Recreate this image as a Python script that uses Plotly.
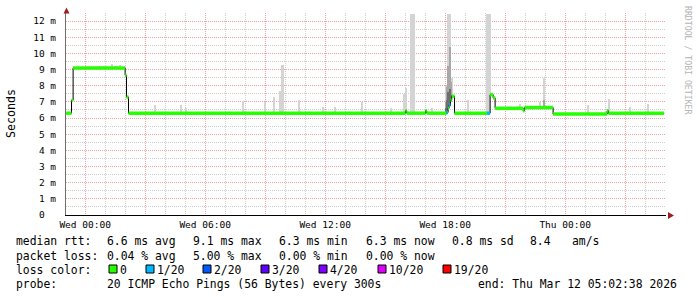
import plotly.graph_objects as go
import numpy as np
from datetime import datetime, timedelta

# ---------------- data ----------------
BASE = datetime(2026, 3, 11, 0, 0, 0)          # Wed 00:00
X_START = datetime(2026, 3, 10, 23, 2, 38)
X_END = datetime(2026, 3, 12, 5, 2, 38)

# median rtt steps: start hour (relative to Wed 00:00), value (ms), lost pings (of 20)
med_hours = [-0.95, -0.68, -0.6, 2.0, 2.07, 2.17, 16.02, 16.08, 17.02, 17.08,
             18.08, 18.15, 18.2, 18.27, 18.33, 18.47, 20.1, 20.25, 20.4, 20.5,
             21.9, 21.97, 23.4, 26.1, 26.17]
med_ms = [6.3, 7.1, 9.1, 8.65, 7.3, 6.3, 6.45, 6.3, 6.45, 6.3,
          6.35, 6.6, 6.8, 7.1, 7.35, 6.3, 6.3, 7.45, 7.25, 6.6,
          6.45, 6.65, 6.25, 6.45, 6.3]
med_loss = [0, 0, 0, 0, 0, 0, 0, 0, 0, 0,
            1, 0, 1, 0, 0, 0, 1, 0, 0, 0,
            0, 0, 0, 0, 0]
data_end_hour = 28.95

# light smoke spikes: hour, top (ms)
smoke_hours = [0.75, 0.95, 1.35, 1.55, 1.75, 3.5, 4.8, 5.05, 7.9, 9.0, 9.45, 9.75,
               9.88, 10.7, 11.9, 12.5, 13.85, 15.3, 15.95, 16.05, 16.3, 16.38, 16.46,
               17.35, 18.08, 18.17, 18.25, 18.33, 19.15, 20.1, 20.18, 20.26, 21.75,
               22.75, 22.95, 25.15, 26.2, 27.25, 28.15]
smoke_top = [9.25, 9.2, 9.35, 9.25, 9.3, 6.8, 6.8, 6.6, 7.05, 7.0, 7.3, 7.7,
             9.3, 7.1, 6.7, 6.7, 7.0, 6.6, 7.5, 7.85, 12.45, 12.45, 12.45,
             6.6, 8.0, 12.45, 12.45, 8.5, 7.1, 12.45, 12.45, 12.45, 6.85,
             7.0, 8.5, 6.8, 7.2, 6.7, 6.9]

# medium / dark smoke around 18:00
mid_hours = [18.05, 18.1, 18.17, 18.25, 18.3, 22.95]
mid_top = [7.0, 7.9, 9.2, 10.4, 8.2, 7.1]
dark_hours = [18.05, 18.1, 18.17, 18.25, 18.3]
dark_top = [6.6, 7.1, 7.6, 7.8, 7.4]

loss_colors = {0: "#26ff00", 1: "#00b8ff", 2: "#0059ff", 3: "#5e00ff",
               4: "#7e00ff", 10: "#dd00ff", 19: "#ff0000"}
loss_labels = ["0", "1/20", "2/20", "3/20", "4/20", "10/20", "19/20"]
loss_keys = [0, 1, 2, 3, 4, 10, 19]

y_tick_vals = list(range(0, 13))
y_tick_text = ["0\u00a0\u00a0"] + [f"{v}\u00a0m" for v in range(1, 13)]
x_tick_hours = list(range(0, 28, 3))
x_tick_text = ["Wed 00:00", "", "Wed 06:00", "", "Wed 12:00", "", "Wed 18:00", "", "Thu 00:00", ""]

row1_parts = ["median rtt:", "6.6 ms avg", "9.1 ms max", "6.3 ms min", "6.3 ms now",
              "0.8 ms sd", "8.4", "am/s"]
row2_parts = ["packet loss:", "0.04 % avg", "5.00 % max", "0.00 % min", "0.00 % now"]
row3_label = "loss color:"
row4_parts = ["probe:", "20 ICMP Echo Pings (56 Bytes) every 300s",
              "end: Thu Mar 12 05:02:38 2026"]

# ---------------- layout helpers ----------------
W, H = 697, 297
ML, MR, MT, MB = 66, 31, 13, 82
PW, PH = W - ML - MR, H - MT - MB
MONO = "DejaVu Sans Mono"
FS = 11.4
PAD = 2  # annotation inner padding

row1_x = [16, 107, 193, 279, 365.5, 451.5, 530, 572]
row2_x = [16, 107, 193, 279, 365.5]
row4_x = [16, 107, 478]
sq_left = [109, 146, 203, 261, 319, 378, 443]


def hx(h):
    return BASE + timedelta(hours=h)


def px(x):
    return (x - ML) / PW


def py(y):
    return (H - MB - y) / PH


def nb(s):
    return s.replace(" ", "\u00a0")


med_h = np.array(med_hours)
med_v = np.array(med_ms)


def median_at(h):
    idx = np.searchsorted(med_h, np.array(h), side="right") - 1
    return med_v[np.clip(idx, 0, len(med_v) - 1)]


fig = go.Figure()
bw = 300000 * 1.1

# smoke
for hrs, tops, col in [(smoke_hours, smoke_top, "#d4d4d4"),
                       (mid_hours, mid_top, "#a8a8a8"),
                       (dark_hours, dark_top, "#6e6e6e")]:
    base = median_at(hrs) - 0.05
    fig.add_trace(go.Bar(x=[hx(h) for h in hrs], y=np.array(tops) - base, base=base,
                         width=bw, marker=dict(color=col, line=dict(width=0)),
                         hoverinfo="skip", showlegend=False))

# black median line
bx = [hx(h) for h in med_hours] + [hx(data_end_hour)]
by = list(med_ms) + [med_ms[-1]]
fig.add_trace(go.Scatter(x=bx, y=by, mode="lines", line=dict(color="black", width=1, shape="hv"),
                         hoverinfo="skip", showlegend=False))

# colored segments by loss
ends = list(med_hours[1:]) + [data_end_hour]
for k in loss_keys:
    xs, ys = [], []
    for s, e, v, l in zip(med_hours, ends, med_ms, med_loss):
        if l == k:
            xs += [hx(s), hx(e), None]
            ys += [v, v, None]
    if xs:
        fig.add_trace(go.Scatter(x=xs, y=ys, mode="lines",
                                 line=dict(color=loss_colors[k], width=3.5),
                                 hoverinfo="skip", showlegend=False, connectgaps=False))

RED = "#eca4a4"
GRAY = "#cdcdcd"

fig.update_layout(
    width=W, height=H,
    margin=dict(l=ML, r=MR, t=MT, b=MB, pad=0),
    paper_bgcolor="white", plot_bgcolor="white",
    barmode="overlay", bargap=0,
    showlegend=False,
    font=dict(family=MONO, color="black"),
    xaxis=dict(
        type="date", range=[X_START, X_END],
        tickmode="array", tickvals=[hx(h) for h in x_tick_hours], ticktext=x_tick_text,
        showgrid=True, gridcolor=RED, griddash="1px,1px", gridwidth=1,
        minor=dict(dtick=3600000, tick0=BASE, showgrid=True, gridcolor=GRAY,
                   griddash="1px,1px", gridwidth=1),
        showline=True, linecolor="black", linewidth=1,
        ticks="", tickfont=dict(family=MONO, size=9.5, color="black"),
        zeroline=False, fixedrange=True, ticklabelstandoff=1,
    ),
    yaxis=dict(
        range=[0, 12.5],
        tickmode="array", tickvals=y_tick_vals, ticktext=y_tick_text,
        showgrid=True, gridcolor=RED, griddash="1px,1px", gridwidth=1,
        minor=dict(dtick=0.5, tick0=0, showgrid=True, gridcolor=GRAY,
                   griddash="1px,1px", gridwidth=1),
        showline=True, linecolor="#707070", linewidth=1,
        ticks="", tickfont=dict(family=MONO, size=9.5, color="black"),
        zeroline=False, fixedrange=True, ticklabelstandoff=7,
    ),
)

shapes = []
# axis arrows
shapes.append(dict(type="path", xref="paper", yref="paper",
                   path=f"M {px(63.5)} {py(13.5)} L {px(69.5)} {py(13.5)} L {px(66.5)} {py(7.5)} Z",
                   fillcolor="#a02020", line=dict(width=0)))
shapes.append(dict(type="path", xref="paper", yref="paper",
                   path=f"M {px(668)} {py(212)} L {px(668)} {py(219)} L {px(674)} {py(215.5)} Z",
                   fillcolor="#a02020", line=dict(width=0)))

annotations = []


def txt(s, x, y, size=FS, color="black", anchor="left", angle=0, yanchor="middle"):
    xx = x - PAD if anchor == "left" else x
    annotations.append(dict(text=nb(s), x=px(xx), y=py(y), xref="paper", yref="paper",
                            xanchor=anchor, yanchor=yanchor, showarrow=False,
                            textangle=angle, font=dict(family=MONO, size=size, color=color)))


for s, x in zip(row1_parts, row1_x):
    txt(s, x, 241.5)
for s, x in zip(row2_parts, row2_x):
    txt(s, x, 255.5)
txt(row3_label, 16, 269.5)
for s, x in zip(row4_parts, row4_x):
    txt(s, x, 283.5)

for k, lab, x0 in zip(loss_keys, loss_labels, sq_left):
    shapes.append(dict(type="rect", xref="paper", yref="paper",
                       x0=px(x0), x1=px(x0 + 8), y0=py(273), y1=py(265),
                       fillcolor=loss_colors[k], line=dict(color="black", width=1)))
    txt(lab, x0 + 11, 269.5)

# y title and watermark
txt("Seconds", 11, 114, size=11.6, anchor="center", angle=-90)
txt("RRDTOOL / TOBI OETIKER", 688, 60, size=8.2, color="#b4b4b4", anchor="center", angle=90)

fig.update_layout(shapes=shapes, annotations=annotations)
fig.write_html("out.html")
